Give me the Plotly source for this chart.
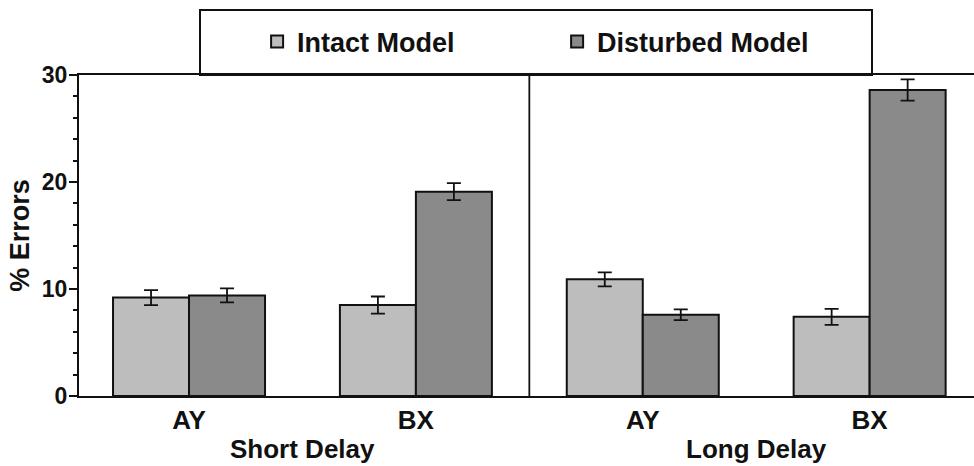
import plotly.graph_objects as go

# Data
positions = [0, 1, 2, 3]
conditions = ["AY", "BX", "AY", "BX"]
delays = ["Short Delay", "Long Delay"]
delay_centers = [0.5, 2.5]
intact = [9.2, 8.5, 10.9, 7.4]
intact_err = [0.7, 0.8, 0.65, 0.75]
disturbed = [9.4, 19.1, 7.6, 28.6]
disturbed_err = [0.65, 0.8, 0.5, 1.0]
series_names = ["Intact Model", "Disturbed Model"]
y_ticks = [0, 10, 20, 30]

FONT = "Liberation Sans"
LIGHT = "#bdbdbd"
DARK = "#8a8a8a"

fig = go.Figure()
for name, vals, errs, col in [
    (series_names[0], intact, intact_err, LIGHT),
    (series_names[1], disturbed, disturbed_err, DARK),
]:
    fig.add_trace(go.Bar(
        x=positions, y=vals, name=f"<b>{name}</b>",
        marker=dict(color=col, line=dict(color="#111", width=2)),
        error_y=dict(type="data", array=errs, visible=True,
                     color="#111", thickness=1.8, width=7),
    ))

fig.update_layout(
    width=974, height=466,
    margin=dict(l=79, r=0, t=75, b=70, autoexpand=False),
    paper_bgcolor="white", plot_bgcolor="white",
    barmode="group", bargap=0.33, bargroupgap=0,
    font=dict(family=FONT, color="#111"),
    showlegend=True,
    legend=dict(
        orientation="h", x=0.199, xanchor="left", y=1.103, yanchor="middle",
        xref="paper", yref="paper",
        bgcolor="rgba(0,0,0,0)", borderwidth=0,
        entrywidth=255, entrywidthmode="pixels",
        font=dict(family=FONT, size=27, color="#111"),
        itemclick=False,
    ),
)

fig.update_xaxes(
    range=[-0.485, 3.46],
    tickmode="array", tickvals=positions,
    ticktext=[f"<b>{c}</b>" for c in conditions],
    ticks="", showline=True, linecolor="#111", linewidth=2,
    mirror=True, showgrid=False, zeroline=False,
    tickfont=dict(family=FONT, size=26, color="#111"),
)
fig.update_yaxes(
    range=[0, 30],
    tickmode="array", tickvals=y_ticks,
    ticktext=[f"<b>{v}</b>" for v in y_ticks],
    ticks="outside", ticklen=8, tickwidth=2, tickcolor="#111",
    ticklabelstandoff=-3,
    minor=dict(dtick=2, ticks="outside", ticklen=4, tickwidth=1.5, tickcolor="#111"),
    showline=True, linecolor="#111", linewidth=2,
    showgrid=False, zeroline=False,
    tickfont=dict(family=FONT, size=23, color="#111"),
    title=dict(text="<b>% Errors</b>", font=dict(family=FONT, size=27, color="#111"), standoff=4),
)

# divider between delay groups
fig.add_shape(type="line", xref="x", yref="y", x0=1.5, x1=1.5, y0=-0.7, y1=30,
              line=dict(color="#111", width=1.8))
fig.add_shape(type="line", xref="x", yref="y", x0=2.5, x1=2.5, y0=-0.5, y1=0,
              line=dict(color="#111", width=1.5))

# legend frame
fig.add_shape(type="rect", xref="paper", yref="paper",
              x0=(200 - 79) / 895, x1=(872 - 79) / 895,
              y0=1.0, y1=1 + (75 - 10) / 321,
              line=dict(color="#111", width=2), fillcolor="white", layer="below")

# delay group labels
for d, cx in zip(delays, delay_centers):
    fig.add_annotation(x=cx, xref="x", y=-0.165, yref="paper",
                       text=f"<b>{d}</b>", showarrow=False, yanchor="middle",
                       font=dict(family=FONT, size=26, color="#111"))

fig.write_html(
    "out.html",
    config={"displayModeBar": False},
    post_script="document.body.style.margin='0';document.body.style.overflow='hidden';",
)
